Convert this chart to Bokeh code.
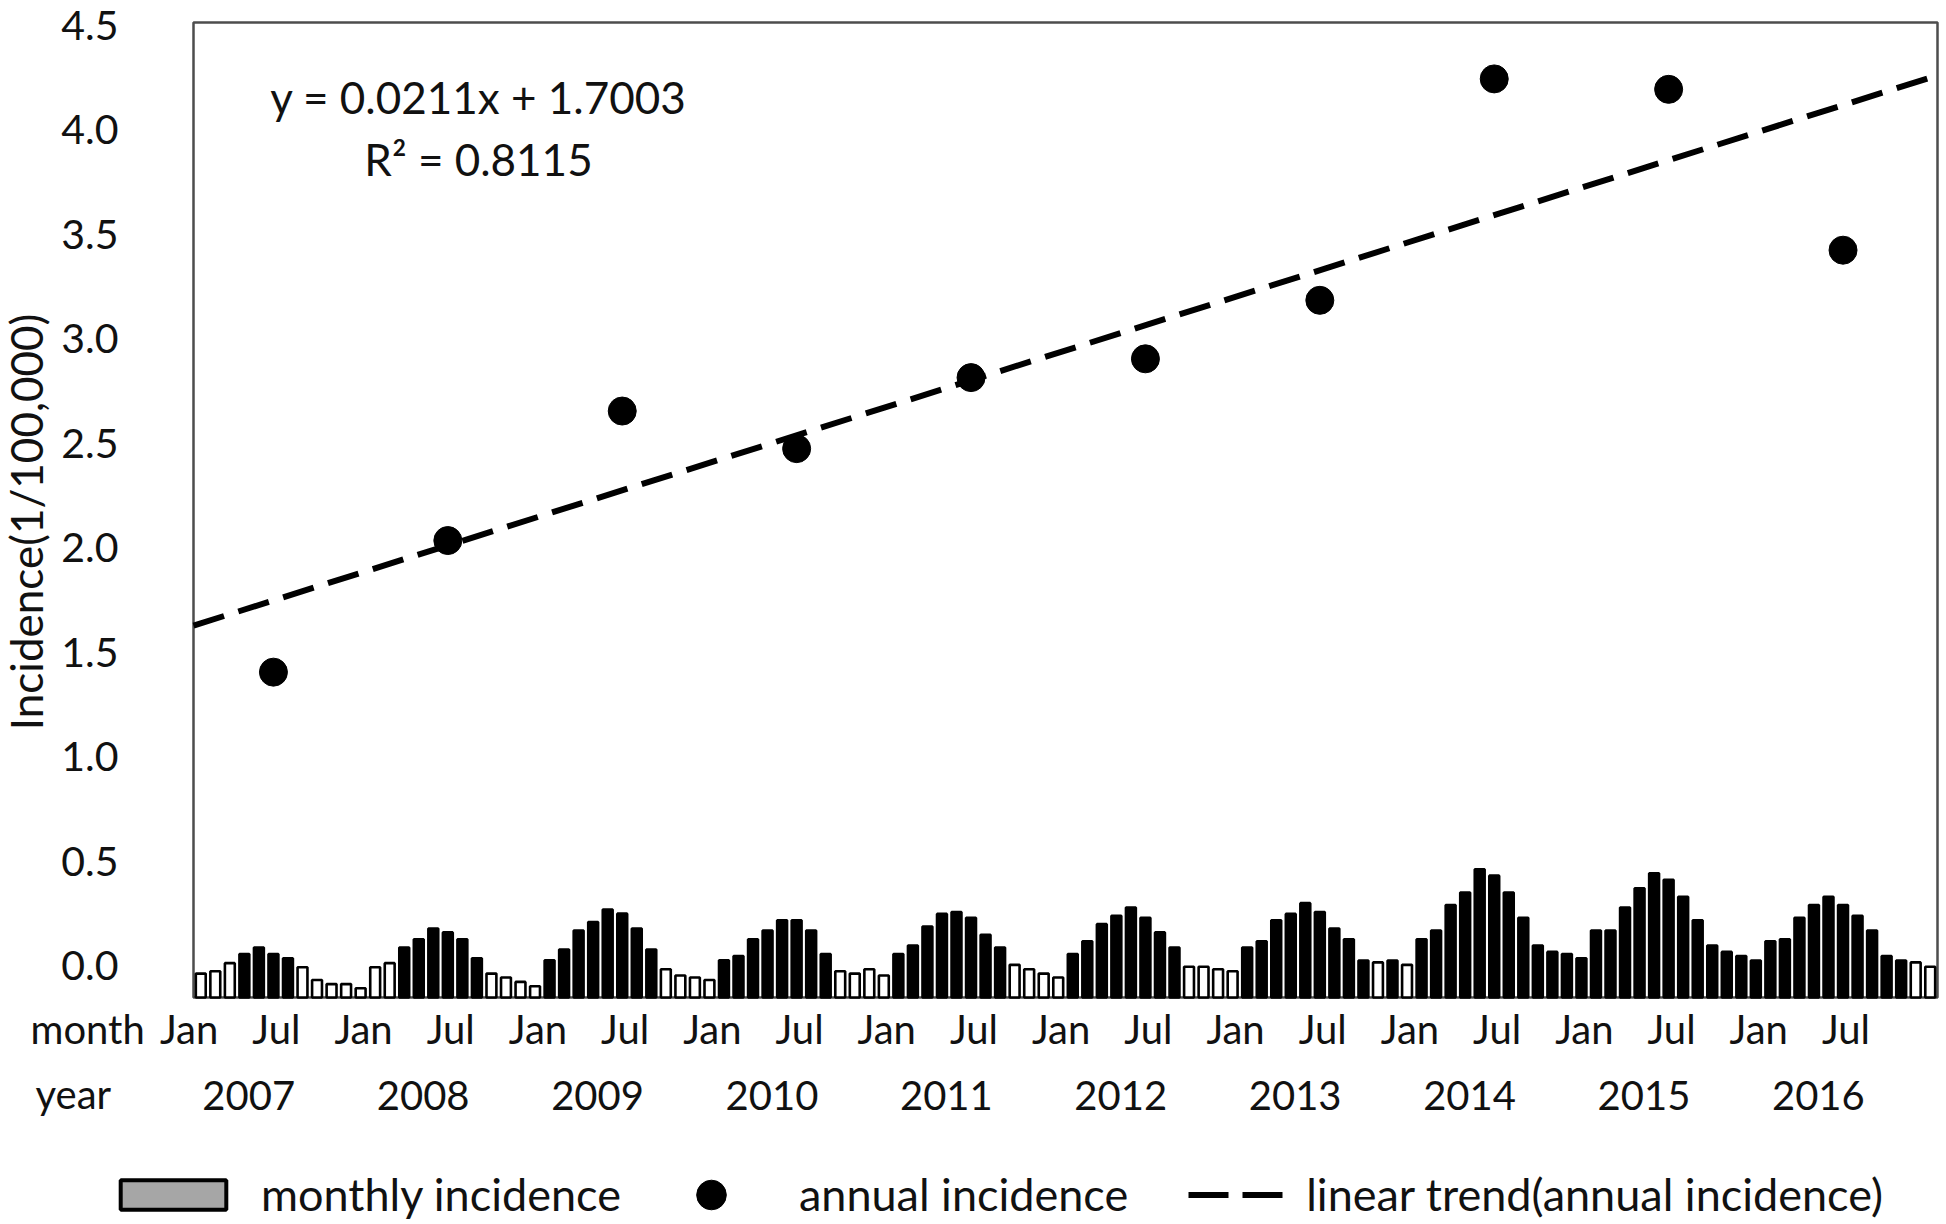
import numpy as np
from bokeh.plotting import figure
from bokeh.models import ColumnDataSource, Range1d, Legend, LegendItem
from bokeh.embed import file_html
from bokeh.resources import INLINE
from bokeh.core.properties import value

# ---------------- data ----------------
years = [2007, 2008, 2009, 2010, 2011, 2012, 2013, 2014, 2015, 2016]
month_tick_names = ["Jan", "Jul"]
month_tick_index = [0, 6]          # month index inside a year (Jan=0, Jul=6)

monthly_2007 = [0.098, 0.108, 0.141, 0.178, 0.205, 0.178, 0.161, 0.124, 0.072, 0.055, 0.055, 0.038]
monthly_2008 = [0.124, 0.141, 0.205, 0.239, 0.283, 0.267, 0.239, 0.161, 0.098, 0.082, 0.064, 0.046]
monthly_2009 = [0.153, 0.197, 0.275, 0.310, 0.361, 0.344, 0.283, 0.197, 0.116, 0.090, 0.082, 0.072]
monthly_2010 = [0.153, 0.170, 0.239, 0.275, 0.317, 0.317, 0.275, 0.178, 0.108, 0.098, 0.116, 0.090]
monthly_2011 = [0.178, 0.213, 0.291, 0.343, 0.351, 0.327, 0.257, 0.205, 0.134, 0.116, 0.098, 0.082]
monthly_2012 = [0.178, 0.231, 0.301, 0.335, 0.369, 0.327, 0.267, 0.205, 0.126, 0.126, 0.116, 0.108]
monthly_2013 = [0.205, 0.231, 0.317, 0.343, 0.387, 0.351, 0.283, 0.239, 0.152, 0.144, 0.152, 0.134]
monthly_2014 = [0.239, 0.275, 0.379, 0.431, 0.526, 0.500, 0.431, 0.327, 0.213, 0.187, 0.178, 0.161]
monthly_2015 = [0.275, 0.275, 0.369, 0.448, 0.510, 0.483, 0.413, 0.317, 0.213, 0.187, 0.170, 0.152]
monthly_2016 = [0.231, 0.239, 0.327, 0.379, 0.413, 0.379, 0.335, 0.275, 0.170, 0.152, 0.144, 0.126]

annual_incidence = [1.39, 2.02, 2.64, 2.46, 2.80, 2.89, 3.17, 4.23, 4.18, 3.41]

y_ticks = [0.0, 0.5, 1.0, 1.5, 2.0, 2.5, 3.0, 3.5, 4.0, 4.5]
equation_text = "y = 0.0211x + 1.7003"
r2_text = "R\u00b2 = 0.8115"
y_label = "Incidence(1/100,000)"
row_names = ["month", "year"]
legend_labels = ["monthly incidence", "annual incidence", "linear trend(annual incidence)"]

# ---------------- layout / style constants (pixels) ----------------
W, H = 1946, 1224
BOX_L, BOX_R, BOX_T, BOX_B = 193, 1937, 22, 997
Y_MIN, Y_MAX = -0.1675, 4.5          # primary axis at the box bottom / top
MONTHLY_MAX = 4.0                    # secondary (bar) axis at the box top, 0 at the floor
FONT = value("Lato")
TXT = "#111111"
MONTH_LABEL_SHIFT = -0.8             # months
YEAR_LABEL_SHIFT = -2.2              # months

monthly = (monthly_2007 + monthly_2008 + monthly_2009 + monthly_2010 + monthly_2011 +
           monthly_2012 + monthly_2013 + monthly_2014 + monthly_2015 + monthly_2016)
n_months = len(monthly)
month_pos = [i + 0.5 for i in range(n_months)]
bar_fill = ["white" if v < 0.145 else "black" for v in monthly]

annual_pos = [12 * k + 5.5 for k in range(len(years))]
slope, intercept = np.polyfit(annual_pos, annual_incidence, 1)
trend_x = [0, n_months]
trend_y = [intercept + slope * x for x in trend_x]

# ranges so that the data box sits at the pixel box above, the frame fills the canvas
ppx = (BOX_R - BOX_L) / n_months
ppy = (BOX_B - BOX_T) / (Y_MAX - Y_MIN)
spy = MONTHLY_MAX / (BOX_B - BOX_T)
x_range = Range1d(-BOX_L / ppx, n_months + (W - BOX_R) / ppx)
y_range = Range1d(Y_MIN - (H - BOX_B) / ppy, Y_MAX + BOX_T / ppy)

p = figure(width=W, height=H, output_backend="svg", toolbar_location=None,
           x_range=x_range, y_range=y_range, x_axis_location=None, y_axis_location=None,
           min_border=0, min_border_left=0, min_border_right=0,
           min_border_top=0, min_border_bottom=0)
p.extra_y_ranges = {"monthly": Range1d(-(H - BOX_B) * spy, MONTHLY_MAX + BOX_T * spy)}
p.xgrid.visible = False
p.ygrid.visible = False
p.outline_line_color = None
p.background_fill_color = "white"
p.border_fill_color = "white"

# plot box
p.quad(left=[0], right=[n_months], bottom=[Y_MIN], top=[Y_MAX], fill_alpha=0,
       line_color="#4d4d4d", line_width=2.5)

# monthly bars
src = ColumnDataSource(dict(x=month_pos, top=monthly, fill=bar_fill))
p.vbar(x="x", top="top", bottom=0, width=0.68, source=src, y_range_name="monthly",
       fill_color="fill", line_color="black", line_width=2.6)

# annual dots and linear trend
dots = p.ellipse(x=annual_pos, y=annual_incidence, width=28, height=28,
                 width_units="screen", height_units="screen",
                 fill_color="black", line_color="black")
p.line(trend_x, trend_y, line_color="black", line_width=6, line_dash="32 15")

# y tick labels and axis title
p.text(x=[0] * len(y_ticks), y=y_ticks, text=[f"{t:.1f}" for t in y_ticks],
       x_offset=-75, y_offset=3, text_align="right", text_baseline="middle",
       text_font=FONT, text_font_size=value("41px"), text_color=TXT)
p.text(x=[0], y=[(Y_MIN + Y_MAX) / 2], text=[y_label], angle=np.pi / 2,
       x_offset=-168, y_offset=12, text_align="center", text_baseline="middle",
       text_font=FONT, text_font_size=value("44px"), text_color=TXT)

# month / year rows
mx = [12 * k + mi + 0.5 + MONTH_LABEL_SHIFT for k in range(len(years)) for mi in month_tick_index]
mt = [name for k in range(len(years)) for name in month_tick_names]
p.text(x=mx, y=[Y_MIN] * len(mx), text=mt, y_offset=31, text_align="center",
       text_baseline="middle", text_font=FONT, text_font_size=value("40px"), text_color=TXT)
yx = [12 * k + 6 + YEAR_LABEL_SHIFT for k in range(len(years))]
p.text(x=yx, y=[Y_MIN] * len(yx), text=[str(y) for y in years], y_offset=98,
       text_align="center", text_baseline="middle", text_font=FONT,
       text_font_size=value("40px"), text_color=TXT)
p.text(x=[0, 0], y=[Y_MIN, Y_MIN], text=row_names, x_offset=[-163, -158], y_offset=[31, 96],
       text_align="left", text_baseline="middle", text_font=FONT,
       text_font_size=value("40px"), text_color=TXT)

# regression equation
p.text(x=[0, 0], y=[Y_MAX, Y_MAX], text=[equation_text, r2_text], x_offset=285,
       y_offset=[74, 136], text_align="center", text_baseline="middle", text_font=FONT,
       text_font_size=value("44px"), text_color=TXT)

# legend proxies (not drawn in the plot: NaN values)
bar_proxy = p.vbar(x=[np.nan], top=[np.nan], width=0.7, fill_color="#a6a6a6",
                   line_color="black", line_width=4)
line_proxy = p.line(x=[np.nan], y=[np.nan], line_color="black", line_width=6,
                    line_dash="0 36 40 14 40 100")

legend = Legend(items=[LegendItem(label=legend_labels[0], renderers=[bar_proxy]),
                       LegendItem(label=legend_labels[1], renderers=[dots]),
                       LegendItem(label=legend_labels[2], renderers=[line_proxy])],
                orientation="horizontal", location=(107, 3),
                glyph_width=132, glyph_height=37, label_height=37,
                label_standoff=22, spacing=24,
                padding=0, margin=0, border_line_color=None, background_fill_alpha=0,
                label_text_font="Lato", label_text_font_size="45px", label_text_color=TXT)
p.add_layout(legend, "center")

open("out.html", "w").write(file_html(p, INLINE))
